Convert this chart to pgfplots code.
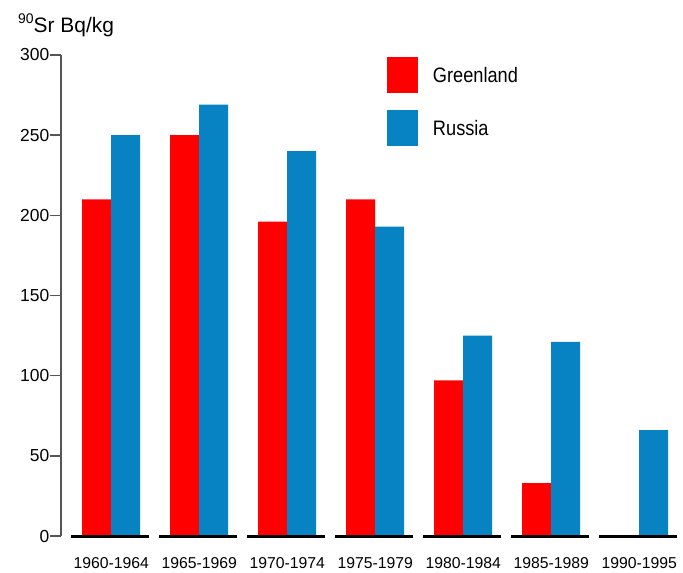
\documentclass[border=0pt]{standalone}
\usepackage{fontspec}
\setmainfont{Liberation Sans}
\newfontfamily\legfont{Liberation Sans}[FakeStretch=0.87]
\usepackage{pgfplots}
\pgfplotsset{compat=1.18}
\definecolor{grl}{RGB}{255,0,0}
\definecolor{rus}{RGB}{7,131,196}
\definecolor{axgray}{RGB}{85,85,85}
\begin{document}
\begin{tikzpicture}
\begin{axis}[
  name=ax,
  scale only axis, width=617.76bp, height=481bp,
  xmin=-0.57, xmax=6.45, ymin=0, ymax=300,
  axis x line*=bottom, x axis line style={draw=none},
  axis y line*=left, y axis line style={-, draw=axgray, line width=1.5bp},
  ytick={0,50,...,300}, tick align=outside, major tick length=11bp,
  ytick style={draw=axgray, line width=1.5bp},
  xtick={0,...,6},
  xticklabels={1960-1964,1965-1969,1970-1974,1975-1979,1980-1984,1985-1989,1990-1995},
  xtick style={draw=none},
  xticklabel style={font=\fontsize{15.8}{18}\selectfont, inner ysep=0pt, yshift=-10bp},
  yticklabel style={font=\fontsize{17.5}{20}\selectfont, inner xsep=0.5bp},
  /pgf/number format/assume math mode=true,
  ybar=0pt, bar width=29bp,
  clip=false,
  legend style={draw=none, fill=none, inner sep=0pt, outer sep=0pt,
    at={(0.5277,0.9958)}, anchor=north west,
    font=\legfont\fontsize{21}{24}\selectfont,
    nodes={inner sep=0pt, anchor=base west},
    column sep=15bp, row sep=17bp},
  legend cell align=left,
]
\addplot[fill=grl, draw=none, legend image code/.code={\fill[grl] (0bp,-11bp) rectangle (31bp,25bp);}]
  coordinates {(0,210)(1,250)(2,196)(3,210)(4,97)(5,33)(6,0)};
\addplot[fill=rus, draw=none, legend image code/.code={\fill[rus] (0bp,-11bp) rectangle (31bp,25bp);}]
  coordinates {(0,250)(1,269)(2,240)(3,193)(4,125)(5,121)(6,66)};
\legend{Greenland, Russia}
\draw[line width=3bp, black] (axis cs:-0.46,0) -- (axis cs:0.43,0);
\draw[line width=3bp, black] (axis cs:0.54,0) -- (axis cs:1.43,0);
\draw[line width=3bp, black] (axis cs:1.54,0) -- (axis cs:2.43,0);
\draw[line width=3bp, black] (axis cs:2.54,0) -- (axis cs:3.43,0);
\draw[line width=3bp, black] (axis cs:3.54,0) -- (axis cs:4.43,0);
\draw[line width=3bp, black] (axis cs:4.54,0) -- (axis cs:5.43,0);
\draw[line width=3bp, black] (axis cs:5.54,0) -- (axis cs:6.43,0);
\end{axis}
\node[anchor=base west, inner sep=0pt] at ([shift={(-43bp,503bp)}]ax.south west)
  {\raisebox{9bp}{\fontsize{14}{14}\selectfont 90}\fontsize{21}{25}\selectfont Sr Bq/kg};
\path ([shift={(-61bp,-37bp)}]ax.south west) rectangle ++(683bp,573bp);
\end{tikzpicture}
\end{document}
